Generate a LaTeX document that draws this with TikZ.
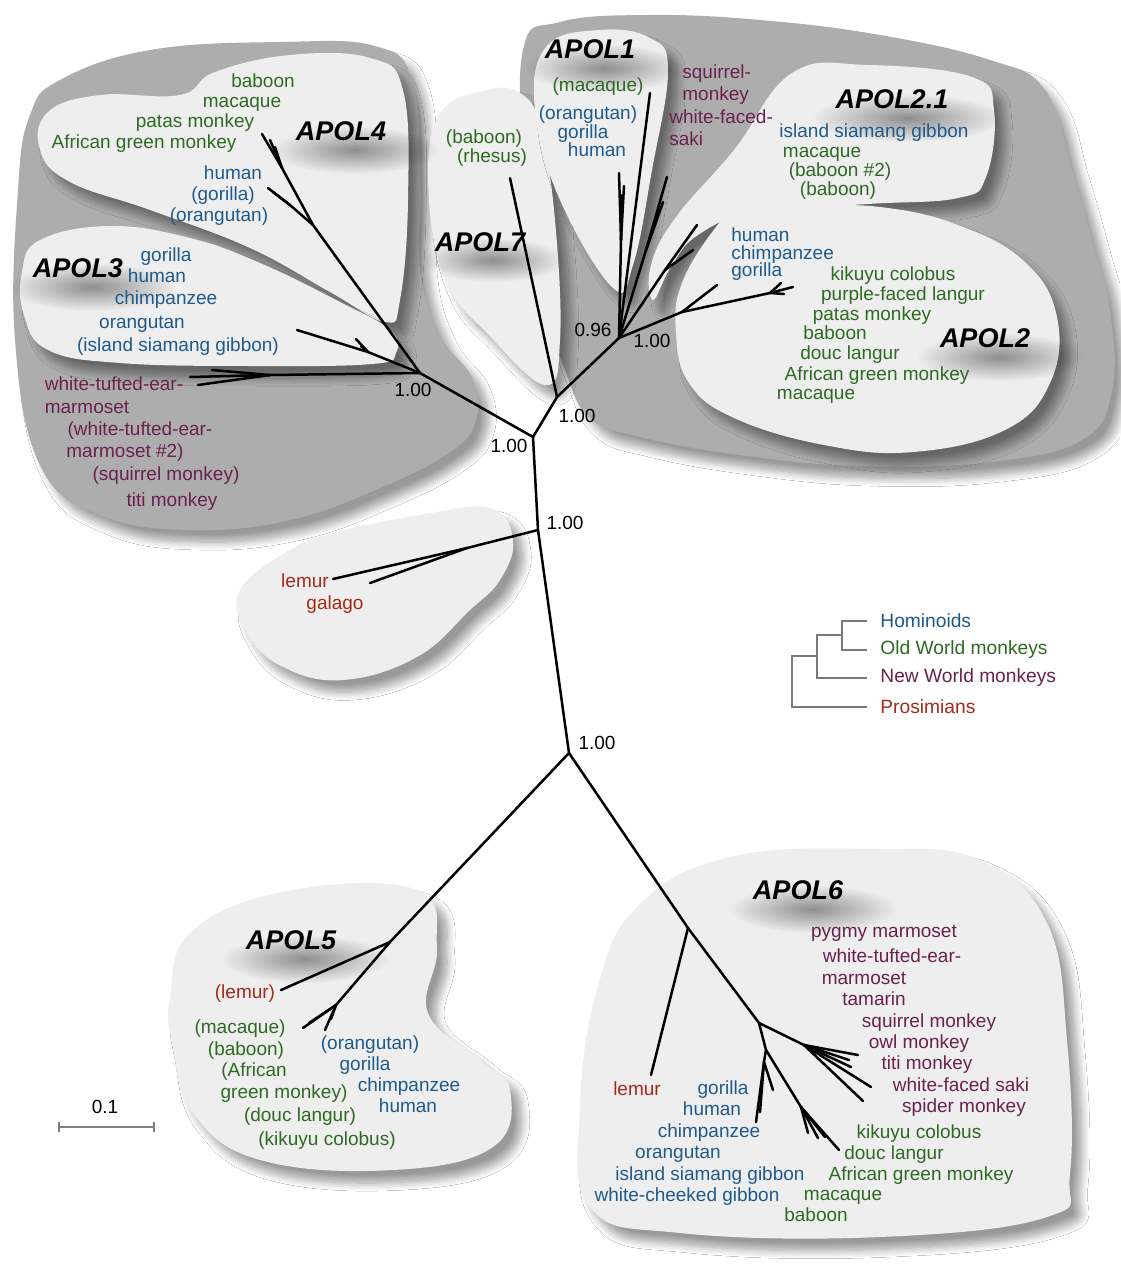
\documentclass[tikz,border=0pt]{standalone}
\usepackage{fontspec}
\setmainfont{Liberation Sans}
\usetikzlibrary{arrows.meta,shadows.blur,fadings}
\definecolor{hominoid}{HTML}{1F5A8C}
\definecolor{oldworld}{HTML}{2D6B22}
\definecolor{newworld}{HTML}{6B2150}
\definecolor{prosimian}{HTML}{A52A17}
\definecolor{palefill}{HTML}{EEEEEE}
\definecolor{darkfill}{HTML}{ADADAD}
\definecolor{legendline}{HTML}{7A7A7A}
\tikzfading[name=softspot, inner color=transparent!0, outer color=transparent!100]
\tikzset{
  taxon/.style={font=\fontsize{9.5}{11}\selectfont, inner sep=0pt, text height=7pt, text depth=2pt},
  homtx/.style={taxon, text=hominoid},
  owmtx/.style={taxon, text=oldworld},
  nwmtx/.style={taxon, text=newworld},
  protx/.style={taxon, text=prosimian},
  support/.style={taxon, text=black},
  genetag/.style={font=\fontsize{13.5}{15}\selectfont\bfseries\itshape, inner sep=0pt},
  tagshadow/.style={fill=black, fill opacity=0.4, path fading=softspot},
  branch/.style={line width=1.25pt, line cap=round},
  blobshadow/.style={blur shadow={shadow xshift=5pt, shadow yshift=-6pt, shadow blur radius=4pt, shadow blur steps=12, shadow opacity=40}},
  paleblob/.style={fill=palefill, blobshadow},
  darkblob/.style={fill=darkfill, blobshadow},
  legendedge/.style={draw=legendline, line width=0.6pt},
  legendtx/.style={font=\fontsize{9.6}{11}\selectfont, inner sep=0pt, anchor=west},
  scalebar/.style={{Bar[width=5pt]}-{Bar[width=5pt]}, draw=gray, line width=1pt}
}

\begin{document}
\begin{tikzpicture}[x=0.5pt, y=-0.5pt]
  \useasboundingbox (0,0) rectangle (1120,1280);
  \fill[white] (0,0) rectangle (1120,1280);

  % gene-family groups
  \fill[darkblob] plot[smooth cycle, tension=0.7] coordinates {(60,80) (150,50) (280,42) (375,46) (412,80) (420,180) (420,270) (440,335) (472,378) (476,420) (450,452) (380,488) (290,520) (190,530) (100,515) (40,465) (15,340) (18,190) (30,115)};
  \fill[darkblob] plot[smooth cycle, tension=0.7] coordinates {(523,50) (560,22) (650,15) (760,20) (880,35) (990,60) (1045,90) (1072,170) (1092,240) (1110,310) (1112,390) (1082,440) (990,462) (860,466) (740,455) (640,437) (590,418) (565,370) (540,290) (525,180)};

  \fill[paleblob] plot[smooth cycle, tension=0.7] coordinates {(40,150) (48,112) (100,95) (180,95) (215,72) (290,55) (370,58) (403,90) (408,200) (400,300) (385,322) (330,292) (250,248) (150,210) (70,182)};
  \fill[paleblob] plot[smooth cycle, tension=0.7] coordinates {(22,272) (40,240) (110,226) (190,238) (260,263) (340,302) (390,330) (396,353) (372,364) (250,366) (120,363) (48,350) (24,315)};
  \fill[paleblob] plot[smooth cycle, tension=0.7] coordinates {(487,90) (438,117) (429,200) (447,283) (487,333) (545,385) (560,340) (555,220) (541,130) (523,95)};
  \fill[paleblob] plot[smooth cycle, tension=0.7] coordinates {(599,30) (546,47) (535,110) (560,200) (613,288) (633,265) (652,170) (668,70) (650,38)};
  \fill[paleblob] plot[smooth cycle, tension=0.7] coordinates {(792,73) (868,65) (972,77) (994,110) (986,177) (958,198) (868,204) (756,212) (698,235) (671,267) (653,300) (651,265) (676,217) (734,150)};
  \fill[paleblob] plot[smooth cycle, tension=0.7] coordinates {(716,227) (740,208) (800,206) (880,207) (958,225) (1025,262) (1057,317) (1050,383) (1005,430) (913,452) (824,445) (734,418) (689,383) (676,333) (682,283)};
  \fill[paleblob] plot[smooth cycle, tension=0.7] coordinates {(240,590) (290,550) (333,533) (420,515) (490,508) (513,540) (500,580) (470,610) (417,657) (343,680) (283,667) (247,633)};
  \fill[paleblob] plot[smooth cycle, tension=0.7] coordinates {(170,997) (193,930) (293,890) (417,890) (437,947) (428,1013) (480,1060) (510,1090) (493,1147) (393,1170) (260,1160) (193,1113) (173,1047)};
  \fill[paleblob] plot[smooth cycle, tension=0.7] coordinates {(597,990) (637,907) (730,857) (880,849) (980,860) (1047,923) (1067,1040) (1070,1173) (1047,1217) (880,1237) (680,1233) (590,1207) (580,1107)};

  \path[tagshadow] (355,150) ellipse (42pt and 12pt);
  \path[tagshadow] (92,287) ellipse (42pt and 12pt);
  \path[tagshadow] (493,260) ellipse (36pt and 11pt);
  \path[tagshadow] (604,68) ellipse (40pt and 12pt);
  \path[tagshadow] (908,118) ellipse (48pt and 12pt);
  \path[tagshadow] (1000,357) ellipse (42pt and 12pt);
  \path[tagshadow] (305,959) ellipse (42pt and 12pt);
  \path[tagshadow] (813,909) ellipse (42pt and 12pt);

  \node[genetag] (apol4) at (341,131) {APOL4};
  \node[genetag] (apol3) at (78,268) {APOL3};
  \node[genetag] (apol7) at (480,242) {APOL7};
  \node[genetag] (apol1) at (590,49) {APOL1};
  \node[genetag] (apol21) at (892,99) {APOL2.1};
  \node[genetag] (apol2) at (985,338) {APOL2};
  \node[genetag] (apol5) at (291,940) {APOL5};
  \node[genetag] (apol6) at (798,890) {APOL6};

  % tree
  \coordinate (nA) at (420,373);
  \coordinate (nB) at (533,437);
  \coordinate (nC) at (557,397);
  \coordinate (nD) at (619,338);
  \coordinate (nE) at (538,530);
  \coordinate (nF) at (569,753);
  \coordinate (nG) at (390,942);
  \coordinate (nH) at (688,928);
  \coordinate (nI) at (759,1023);
  \coordinate (nJ) at (766,1050);
  \draw[branch] (nA) -- (nB) -- (nC) -- (nD);
  \draw[branch] (nB) -- (nE) -- (nF) -- (nG);
  \draw[branch] (nF) -- (nH) -- (nI) -- (nJ);

  \coordinate (p4j) at (313,225);
  \coordinate (p4o) at (282,168);
  \coordinate (p4h) at (290,205);
  \draw[branch] (nA) -- (p4j) -- (p4o) -- (262,134);
  \draw[branch] (p4j) -- (p4h) -- (268,188);
  \foreach \tip in {(270,140),(275,147)} \draw[branch] (p4o) -- \tip;
  \draw[branch] (p4h) -- (273,192);

  \coordinate (p3j) at (368,352);
  \draw[branch] (nA) -- (p3j) -- (297,330);
  \foreach \tip in {(356,339),(361,346)} \draw[branch] (p3j) -- \tip;

  \coordinate (n3j) at (270,375);
  \draw[branch] (nA) -- (n3j);
  \foreach \tip in {(190,377),(198,385),(212,370)} \draw[branch] (n3j) -- \tip;

  \draw[branch] (nC) -- (510,178);

  \coordinate (p1j) at (621,240);
  \draw[branch] (nD) -- (650,93);
  \draw[branch] (nD) -- (p1j);
  \foreach \tip in {(619,173),(624,186),(622,195)} \draw[branch] (p1j) -- \tip;

  \coordinate (nrj) at (646,250);
  \draw[branch] (nD) -- (nrj);
  \foreach \tip in {(667,177),(663,202),(660,210)} \draw[branch] (nrj) -- \tip;

  \coordinate (p21j) at (665,270);
  \draw[branch] (nD) -- (p21j);
  \foreach \tip in {(697,225),(693,250)} \draw[branch] (p21j) -- \tip;

  \coordinate (p2j) at (682,312);
  \coordinate (p2o) at (770,293);
  \draw[branch] (nD) -- (p2j) -- (p2o) -- (793,287);
  \draw[branch] (p2j) -- (717,285);
  \foreach \tip in {(781,283),(784,294)} \draw[branch] (p2o) -- \tip;

  \coordinate (prj) at (467,548);
  \draw[branch] (nE) -- (prj) -- (333,579);
  \draw[branch] (prj) -- (370,583);

  \coordinate (p5j) at (336,1005);
  \draw[branch] (nG) -- (281,990);
  \draw[branch] (nG) -- (p5j);
  \foreach \tip in {(303,1028),(309,1023),(325,1030),(331,1019)} \draw[branch] (p5j) -- \tip;

  \coordinate (n6j) at (804,1045);
  \coordinate (h6j) at (764,1062);
  \coordinate (o6j) at (801,1107);
  \draw[branch] (nH) -- (651,1075);
  \draw[branch] (nI) -- (n6j);
  \foreach \tip in {(858,1055),(849,1060),(851,1067),(871,1087),(863,1101)} \draw[branch] (n6j) -- \tip;
  \draw[branch] (nJ) -- (h6j);
  \foreach \tip in {(756,1122),(773,1090),(760,1112)} \draw[branch] (h6j) -- \tip;
  \draw[branch] (nJ) -- (o6j) -- (839,1150);
  \foreach \tip in {(818,1138),(825,1137),(808,1133)} \draw[branch] (o6j) -- \tip;

  \node[support] (sA) at (413,391) {1.00};
  \node[support] (sB) at (509,447) {1.00};
  \node[support] (sC) at (577,417) {1.00};
  \node[support] (sD1) at (593,331) {0.96};
  \node[support] (sD2) at (652,342) {1.00};
  \node[support] (sE) at (565,524) {1.00};
  \node[support] (sF) at (597,744) {1.00};

  % APOL4 / APOL3 taxa
  \node[owmtx] (p4bab) at (263,82) {baboon};
  \node[owmtx] (p4mac) at (242,102) {macaque};
  \node[owmtx] (p4pat) at (195,122) {patas monkey};
  \node[owmtx] (p4agm) at (144,143) {African green monkey};
  \node[homtx] (p4hum) at (233,174) {human};
  \node[homtx] (p4gor) at (223,195) {(gorilla)};
  \node[homtx] (p4ora) at (219,216) {(orangutan)};
  \node[homtx] (p3gor) at (166,256) {gorilla};
  \node[homtx] (p3hum) at (157,277) {human};
  \node[homtx] (p3chi) at (166,299) {chimpanzee};
  \node[homtx] (p3ora) at (142,323) {orangutan};
  \node[homtx] (p3sia) at (178,346) {(island siamang gibbon)};
  \node[nwmtx] (n3wt1) at (114,385) {white-tufted-ear-};
  \node[nwmtx] (n3wt2) at (87,408) {marmoset};
  \node[nwmtx] (n3wt3) at (140,430) {(white-tufted-ear-};
  \node[nwmtx] (n3wt4) at (125,452) {marmoset \#2)};
  \node[nwmtx] (n3sqm) at (166,475) {(squirrel monkey)};
  \node[nwmtx] (n3tit) at (172,501) {titi monkey};

  % APOL7 / APOL1 / APOL2 taxa
  \node[owmtx] (p7bab) at (484,138) {(baboon)};
  \node[owmtx] (p7rhe) at (492,157) {(rhesus)};
  \node[owmtx] (p1mac) at (598,86) {(macaque)};
  \node[homtx] (p1ora) at (588,114) {(orangutan)};
  \node[homtx] (p1gor) at (583,133) {gorilla};
  \node[homtx] (p1hum) at (597,151) {human};
  \node[nwmtx, anchor=west] (nrsq1) at (682,73) {squirrel-};
  \node[nwmtx, anchor=west] (nrsq2) at (682,95) {monkey};
  \node[nwmtx, anchor=west] (nrwf1) at (669,118) {white-faced-};
  \node[nwmtx, anchor=west] (nrwf2) at (669,140) {saki};
  \node[homtx] (p21sia) at (874,132) {island siamang gibbon};
  \node[owmtx] (p21mac) at (822,152) {macaque};
  \node[owmtx] (p21ba2) at (840,171) {(baboon \#2)};
  \node[owmtx] (p21bab) at (838,190) {(baboon)};
  \node[homtx, anchor=west] (p2hum) at (731,236) {human};
  \node[homtx, anchor=west] (p2chi) at (731,254) {chimpanzee};
  \node[homtx, anchor=west] (p2gor) at (731,271) {gorilla};
  \node[owmtx] (p2kik) at (893,275) {kikuyu colobus};
  \node[owmtx] (p2pfl) at (903,295) {purple-faced langur};
  \node[owmtx] (p2pat) at (872,315) {patas monkey};
  \node[owmtx] (p2bab) at (835,334) {baboon};
  \node[owmtx] (p2dou) at (850,354) {douc langur};
  \node[owmtx] (p2agm) at (877,375) {African green monkey};
  \node[owmtx] (p2mac) at (816,394) {macaque};

  % prosimian, APOL5, APOL6 taxa
  \node[protx] (prlem) at (305,582) {lemur};
  \node[protx] (prgal) at (335,604) {galago};
  \node[protx] (p5lem) at (245,993) {(lemur)};
  \node[owmtx] (p5mac) at (240,1028) {(macaque)};
  \node[owmtx] (p5bab) at (246,1050) {(baboon)};
  \node[owmtx] (p5agm1) at (254,1071) {(African};
  \node[owmtx] (p5agm2) at (284,1093) {green monkey)};
  \node[owmtx] (p5dou) at (300,1116) {(douc langur)};
  \node[owmtx] (p5kik) at (327,1140) {(kikuyu colobus)};
  \node[homtx] (p5ora) at (370,1044) {(orangutan)};
  \node[homtx] (p5gor) at (365,1065) {gorilla};
  \node[homtx] (p5chi) at (409,1086) {chimpanzee};
  \node[homtx] (p5hum) at (408,1107) {human};
  \node[nwmtx] (n6pyg) at (884,932) {pygmy marmoset};
  \node[nwmtx] (n6wt1) at (892,957) {white-tufted-ear-};
  \node[nwmtx] (n6wt2) at (864,979) {marmoset};
  \node[nwmtx] (n6tam) at (874,1000) {tamarin};
  \node[nwmtx] (n6sqm) at (929,1022) {squirrel monkey};
  \node[nwmtx] (n6owl) at (919,1043) {owl monkey};
  \node[nwmtx] (n6tit) at (927,1064) {titi monkey};
  \node[nwmtx] (n6wfs) at (961,1086) {white-faced saki};
  \node[nwmtx] (n6spi) at (964,1107) {spider monkey};
  \node[owmtx] (o6kik) at (919,1133) {kikuyu colobus};
  \node[owmtx] (o6dou) at (894,1154) {douc langur};
  \node[owmtx] (o6agm) at (921,1175) {African green monkey};
  \node[owmtx] (o6mac) at (843,1195) {macaque};
  \node[owmtx] (o6bab) at (816,1216) {baboon};
  \node[protx] (pr6lem) at (637,1090) {lemur};
  \node[homtx] (h6gor) at (723,1089) {gorilla};
  \node[homtx] (h6hum) at (712,1110) {human};
  \node[homtx] (h6chi) at (709,1132) {chimpanzee};
  \node[homtx] (h6ora) at (678,1153) {orangutan};
  \node[homtx] (h6sia) at (710,1175) {island siamang gibbon};
  \node[homtx] (h6wcg) at (687,1196) {white-cheeked gibbon};

  % legend
  \node[legendtx, text=hominoid] (lgHom) at (880,621) {Hominoids};
  \node[legendtx, text=oldworld] (lgOwm) at (880,650) {Old World monkeys};
  \node[legendtx, text=newworld] (lgNwm) at (880,678) {New World monkeys};
  \node[legendtx, text=prosimian] (lgPro) at (880,707) {Prosimians};
  \coordinate (lq1) at (842,635);
  \coordinate (lq2) at (817,656);
  \coordinate (lq3) at (792,682);
  \draw[legendedge] ([xshift=-6.5pt]lgHom.west) -| (lq1) |- ([xshift=-6.5pt]lgOwm.west);
  \draw[legendedge] (lq1) -| (lq2) |- ([xshift=-6.5pt]lgNwm.west);
  \draw[legendedge] (lq2) -| (lq3) |- ([xshift=-6.5pt]lgPro.west);

  \coordinate (sbL) at (58,1127);
  \coordinate (sbR) at (155,1127);
  \draw[scalebar] (sbL) -- (sbR);
  \node[support] (sbtx) at (105,1108) {0.1};
\end{tikzpicture}
\end{document}
